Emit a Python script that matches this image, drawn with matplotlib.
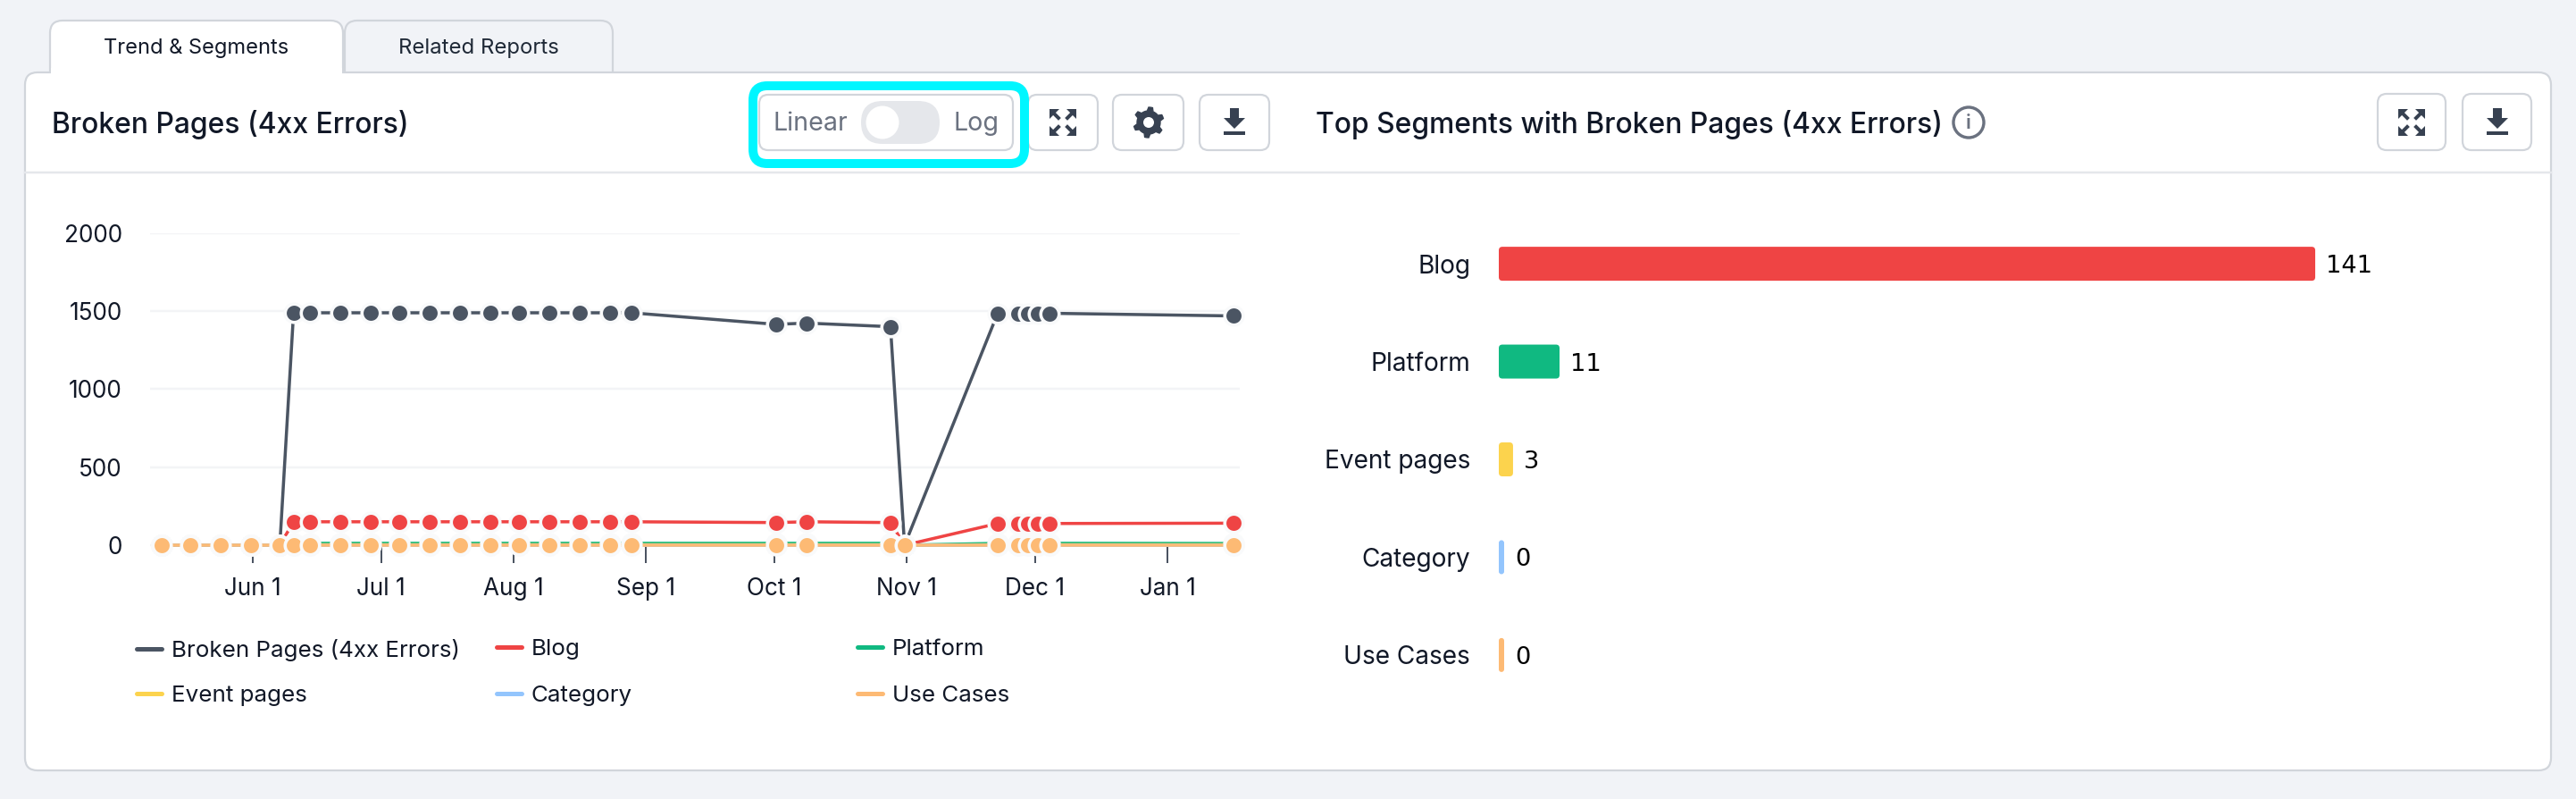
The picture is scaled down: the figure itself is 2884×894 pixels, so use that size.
import numpy as np
import pandas as pd
import matplotlib
matplotlib.use('Agg')
import matplotlib.pyplot as plt
import matplotlib.dates as mdates
from matplotlib.lines import Line2D
from matplotlib.patches import FancyBboxPatch, Circle, Polygon, Rectangle

plt.rcParams['font.family'] = ['Inter', 'DejaVu Sans']

# trend chart data
dates = ['2023-05-10 15:00', '2023-05-17 09:00', '2023-05-24 11:00', '2023-05-31 13:00',
         '2023-06-07 08:00', '2023-06-10 13:00', '2023-06-14 08:00', '2023-06-21 11:00',
         '2023-06-28 15:00', '2023-07-05 06:00', '2023-07-12 08:00', '2023-07-19 13:00',
         '2023-07-26 13:00', '2023-08-02 06:00', '2023-08-09 10:00', '2023-08-16 12:00',
         '2023-08-23 14:00', '2023-08-28 14:00', '2023-10-01 10:00', '2023-10-08 14:00',
         '2023-10-28 05:00', '2023-10-31 12:00', '2023-11-22 07:00', '2023-11-27 00:00',
         '2023-11-29 10:00', '2023-12-01 17:00', '2023-12-04 10:00', '2024-01-16 10:00']
broken_pages = [0, 0, 0, 0, 0, 1490, 1490, 1490, 1490, 1490, 1490, 1490, 1490, 1490,
                1490, 1490, 1490, 1490, 1416, 1424, 1401, 0, 1487, 1487, 1487, 1487, 1487, 1470]
blog = [0, 0, 0, 0, 0, 150, 150, 150, 150, 150, 150, 150, 150, 150,
        150, 150, 150, 150, 145, 150, 145, 0, 139, 139, 139, 139, 139, 141]
platform = [0, 0, 0, 0, 0, 12, 12, 12, 12, 12, 12, 12, 12, 12,
            12, 12, 12, 12, 12, 12, 12, 0, 12, 12, 12, 12, 12, 11]
event_pages = [0, 0, 0, 0, 0, 3, 3, 3, 3, 3, 3, 3, 3, 3,
               3, 3, 3, 3, 3, 3, 3, 0, 3, 3, 3, 3, 3, 3]
category = [0] * 28
use_cases = [0] * 28
y_ticks = [0, 500, 1000, 1500, 2000]

# bar chart data
segments = ['Blog', 'Platform', 'Event pages', 'Category', 'Use Cases']
segment_counts = [141, 11, 3, 0, 0]

DARK = '#4b5563'
RED = '#ef4444'
GREEN = '#10b981'
YELLOW = '#fcd34d'
BLUE = '#93c5fd'
ORANGE = '#fdba74'
TEXT = '#111827'
ICON = '#374151'
BORDER = '#d1d5db'
PAGE_BG = '#f1f3f7'

W, H = 2884, 894
fig = plt.figure(figsize=(W / 100, H / 100), dpi=100, facecolor=PAGE_BG)


def px(v):
    return v * 0.72


def ax_px(left, top, right, bottom):
    return fig.add_axes([left / W, 1 - bottom / H, (right - left) / W, (bottom - top) / H])


def box(ax, x0, y0, x1, y1, r, fc='white', ec=BORDER, lw=2.2, z=2):
    ax.add_patch(FancyBboxPatch((x0, y0), x1 - x0, y1 - y0,
                                boxstyle=f'round,pad=0,rounding_size={r}',
                                fc=fc, ec=ec, lw=px(lw), zorder=z))


# page chrome, drawn in pixel coordinates
ui = fig.add_axes([0, 0, 1, 1], zorder=0)
ui.set_xlim(0, W)
ui.set_ylim(H, 0)
ui.axis('off')

box(ui, 386, 23, 686, 110, 14, fc=PAGE_BG)
box(ui, 56, 23, 384, 110, 14)
box(ui, 28, 81, 2856, 862, 14)
ui.add_patch(Rectangle((57, 76), 326, 10, fc='white', ec='none', zorder=3))
ui.plot([28, 2856], [192.5, 192.5], color='#e5e7eb', lw=px(2.5), zorder=3)

ui.text(220, 54, 'Trend & Segments', fontsize=17, color=TEXT, ha='center', va='center', zorder=4)
ui.text(536, 54, 'Related Reports', fontsize=17.2, color='#1f2937', ha='center', va='center', zorder=4)
ui.text(58, 139, 'Broken Pages (4xx Errors)', fontsize=22.9, weight=500, color=TEXT, va='center', zorder=4)
ui.text(1473, 139, 'Top Segments with Broken Pages (4xx Errors)', fontsize=22.9, weight=500,
        color=TEXT, va='center', zorder=4)

# info icon
ui.add_patch(Circle((2204, 137), 17, fc='white', ec='#6b7280', lw=px(3.4), zorder=4))
ui.text(2204, 138, 'i', fontsize=16, weight=600, color='#6b7280', ha='center', va='center', zorder=5)

# linear/log toggle
box(ui, 843, 96, 1147, 183, 16, fc='none', ec='#00f6ff', lw=10, z=5)
box(ui, 850, 106, 1134, 168, 10, z=4)
box(ui, 964, 113, 1052, 161, 24, fc='#e5e7eb', ec='none', z=5)
ui.add_patch(Circle((988, 137), 20, fc='white', ec='#e5e7eb', lw=px(3), zorder=6))
ui.text(907, 138, 'Linear', fontsize=20.6, color='#6b7280', ha='center', va='center', zorder=6)
ui.text(1093, 138, 'Log', fontsize=20.6, color='#6b7280', ha='center', va='center', zorder=6)


def expand_icon(cx, cy):
    for sx in (-1, 1):
        for sy in (-1, 1):
            ui.add_patch(Polygon([(cx + sx * 15, cy + sy * 15), (cx + sx * 4, cy + sy * 15),
                                  (cx + sx * 15, cy + sy * 4)], fc=ICON, ec='none', zorder=6))
            ui.plot([cx + sx * 11, cx + sx * 5], [cy + sy * 11, cy + sy * 5],
                    color=ICON, lw=px(4), zorder=6)


def gear_icon(cx, cy):
    ang = np.linspace(0, 2 * np.pi, 48, endpoint=False) + np.pi / 2
    rad = np.where((np.arange(48) % 8) < 3, 17, 13)
    ui.add_patch(Polygon(np.c_[cx + rad * np.cos(ang), cy + rad * np.sin(ang)],
                         fc=ICON, ec=ICON, lw=1, zorder=6))
    ui.add_patch(Circle((cx, cy), 6, fc='white', ec='none', zorder=7))


def download_icon(cx, cy):
    ui.add_patch(Polygon([(cx - 5, cy - 16), (cx + 5, cy - 16), (cx + 5, cy - 5), (cx + 12, cy - 5),
                          (cx, cy + 7), (cx - 12, cy - 5), (cx - 5, cy - 5)],
                         fc=ICON, ec='none', zorder=6))
    ui.add_patch(Rectangle((cx - 12, cy + 10), 24, 4, fc=ICON, ec='none', zorder=6))


box(ui, 1151, 106, 1229, 168, 10)
expand_icon(1190, 137)
box(ui, 1246, 106, 1325, 168, 10)
gear_icon(1286, 137)
box(ui, 1343, 106, 1421, 168, 10)
download_icon(1382, 137)
box(ui, 2662, 105, 2738, 168, 10)
expand_icon(2700, 137)
box(ui, 2757, 105, 2834, 168, 10)
download_icon(2796, 137)

# trend chart
ax = ax_px(168, 261, 1388, 612)
ax.set_zorder(1)
ax.patch.set_alpha(0)
x = pd.to_datetime(dates)
series = [('Broken Pages (4xx Errors)', broken_pages, DARK),
          ('Blog', blog, RED),
          ('Platform', platform, GREEN),
          ('Event pages', event_pages, YELLOW),
          ('Category', category, BLUE),
          ('Use Cases', use_cases, ORANGE)]
for i, (name, vals, col) in enumerate(series):
    ax.plot(x, vals, color=col, lw=px(3.5), marker='o', ms=px(20.5), mfc=col, mec='#f9fafb',
            mew=px(3.6), clip_on=False, zorder=3 + i, label=name)

px_per_day = 4.785
jun1 = mdates.date2num(pd.Timestamp('2023-06-01'))
ax.set_xlim(jun1 + (168 - 283) / px_per_day, jun1 + (1388 - 283) / px_per_day)
ax.set_ylim(-11.5, 2000)
ax.set_yticks(y_ticks)
ax.xaxis.set_major_locator(mdates.MonthLocator())
ax.xaxis.set_major_formatter(mdates.DateFormatter('%b %-d'))
ax.set_axisbelow(True)
ax.grid(axis='y', color='#f3f4f6', lw=px(2.5))
ax.tick_params(axis='y', length=0, pad=px(31), labelsize=18.8, labelcolor=TEXT)
ax.tick_params(axis='x', length=px(18), width=px(1.8), color=ICON, pad=px(16),
               labelsize=18.8, labelcolor=TEXT)
for s in ax.spines.values():
    s.set_visible(False)

# legend: three fixed-width columns, like the reference
columns = [(153, [series[0], series[3]], 1.04), (556, [series[1], series[4]], 1.1),
           (960, [series[2], series[5]], 1.1)]
for left, col_series, spacing in columns:
    handles = [Line2D([], [], color=c, lw=px(5), solid_capstyle='round') for _, _, c in col_series]
    leg = fig.legend(handles, [n for n, _, _ in col_series], loc='upper left',
                     bbox_to_anchor=(left / W, 1 - 715 / H), fontsize=18.7, frameon=False,
                     handlelength=1.08, handletextpad=0.42, labelspacing=spacing,
                     borderpad=0, borderaxespad=0, labelcolor=TEXT)
    leg.set_zorder(2)

# segment bars
bx = ax_px(1678, 240.4, 2800, 787.6)
bx.set_zorder(1)
bx.patch.set_alpha(0)
px_per_unit = 6.508
bx.set_xlim(0, (2800 - 1678) / px_per_unit)
bx.set_ylim(4.5, -0.5)
bar_h = 38 / 109.44
aspect = (1 / 109.44) / (1 / px_per_unit)
bar_colors = [RED, GREEN, YELLOW, BLUE, ORANGE]
for i, (v, col) in enumerate(zip(segment_counts, bar_colors)):
    # small bars keep a minimum visible width, ends are rounded a little inside the value
    w = max(v - 0.55, 0.92)
    r = min(4 / px_per_unit, w / 2)
    bx.add_patch(FancyBboxPatch((0, i - bar_h / 2), w, bar_h,
                                boxstyle=f'round,pad=0,rounding_size={r}',
                                fc=col, ec='none', mutation_aspect=aspect))
    bx.annotate(str(v), (w, i), xytext=(px(12), px(-3)), textcoords='offset points', va='center',
                fontsize=19.6, color='black', family='DejaVu Sans')
bx.set_yticks(range(len(segments)))
bx.set_yticklabels(segments)
bx.tick_params(axis='y', length=0, pad=px(32), labelsize=20.2, labelcolor=TEXT)
bx.xaxis.set_visible(False)
for s in bx.spines.values():
    s.set_visible(False)

fig.savefig('out.png', dpi=100, facecolor=fig.get_facecolor())
